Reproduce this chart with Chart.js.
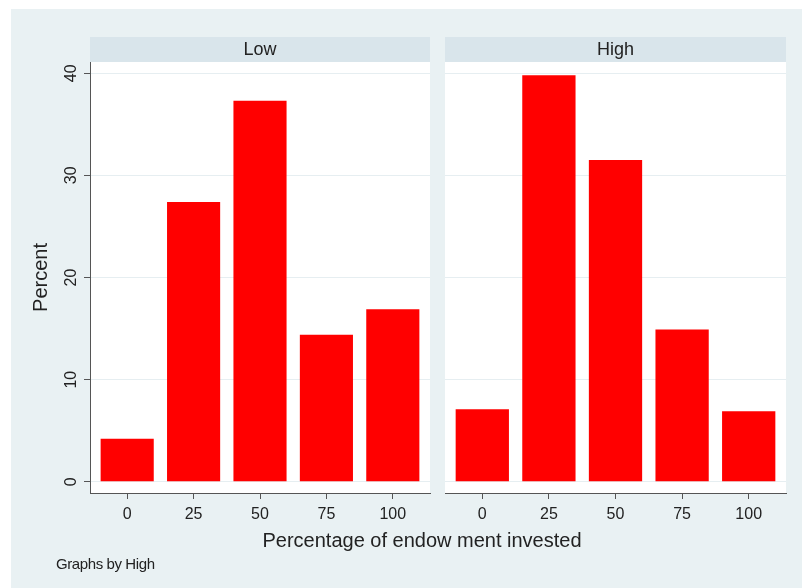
<!DOCTYPE html>
<html>
<head>
<meta charset="utf-8">
<script src="https://cdn.jsdelivr.net/npm/chart.js@4.4.1/dist/chart.umd.min.js"></script>
<style>
  body { margin: 0; background: #ffffff; font-family: "Liberation Sans", Arial, sans-serif; }
  #wrap { position: relative; width: 802px; height: 588px; overflow: hidden; }
  #bg { position: absolute; left: 11px; top: 9px; right: 0; bottom: 0; background: #e9f1f3; }
  canvas { position: absolute; top: 0; }
  .txt { position: absolute; color: #222; white-space: nowrap; }
</style>
</head>
<body>
<div id="wrap">
  <div id="bg"></div>
  <canvas id="lowChart" width="437" height="588" style="left:0"></canvas>
  <canvas id="highChart" width="365" height="588" style="left:437px"></canvas>
  <div class="txt" id="xTitle" style="left:0;width:844px;text-align:center;top:529px;font-size:20px;">Percentage of endow ment invested</div>
  <div class="txt" style="left:56px;top:555px;font-size:15px;letter-spacing:-0.4px;">Graphs by High</div>
</div>
<script>
// data (percent of subjects per bin)
const bins = [0, 25, 50, 75, 100];
const lowValues = [4.2, 27.4, 37.3, 14.4, 16.9];
const highValues = [7.1, 39.8, 31.5, 14.9, 6.9];
const yTicks = [0, 10, 20, 30, 40];
const xTicks = [0, 25, 50, 75, 100];
const panelTitles = ['Low', 'High'];

const textColor = '#222';
const axisColor = '#555';
const gridColor = '#e6eef1';
const headerColor = '#d9e5eb';

// white plot region and grey header strip above each panel
const panelPlugin = {
    id: 'panel',
    beforeDraw(chart, args, opts) {
        const a = chart.chartArea;
        const ctx = chart.ctx;
        ctx.save();
        ctx.fillStyle = '#ffffff';
        ctx.fillRect(a.left, a.top, a.right - a.left, a.bottom - a.top);
        ctx.fillStyle = headerColor;
        ctx.fillRect(a.left, 37, a.right - a.left, 25);
        ctx.fillStyle = textColor;
        ctx.font = '18px "Liberation Sans", Arial, sans-serif';
        ctx.textAlign = 'center';
        ctx.textBaseline = 'middle';
        ctx.fillText(opts.title, (a.left + a.right) / 2, 50);
        ctx.restore();
    }
};

// rotated y tick labels and y title, only on the left panel
const yLabelPlugin = {
    id: 'yLabels',
    afterDraw(chart) {
        const scale = chart.scales.y;
        const a = chart.chartArea;
        const ctx = chart.ctx;
        ctx.save();
        ctx.fillStyle = textColor;
        ctx.textAlign = 'center';
        ctx.textBaseline = 'middle';
        ctx.font = '16px "Liberation Sans", Arial, sans-serif';
        yTicks.forEach(v => {
            const y = scale.getPixelForValue(v);
            ctx.save();
            ctx.translate(72, y);
            ctx.rotate(-Math.PI / 2);
            ctx.fillText(String(v), 0, 0);
            ctx.restore();
        });
        ctx.font = '20px "Liberation Sans", Arial, sans-serif';
        ctx.translate(41, (a.top + a.bottom) / 2);
        ctx.rotate(-Math.PI / 2);
        ctx.fillText('Percent', 0, 0);
        ctx.restore();
    }
};

function makePanel(id, title, values, showY, padding) {
    const points = bins.map((b, i) => ({ x: b, y: values[i] }));
    return new Chart(document.getElementById(id), {
        type: 'bar',
        data: {
            datasets: [{
                data: points,
                backgroundColor: '#ff0000',
                borderWidth: 0,
                barPercentage: 0.8,
                categoryPercentage: 1.0
            }]
        },
        plugins: showY ? [panelPlugin, yLabelPlugin] : [panelPlugin],
        options: {
            responsive: false,
            animation: false,
            layout: { padding: padding },
            plugins: {
                legend: { display: false },
                tooltip: { enabled: false },
                panel: { title: title }
            },
            scales: {
                x: {
                    type: 'linear',
                    min: -14,
                    max: 114,
                    offset: false,
                    afterBuildTicks: s => { s.ticks = xTicks.map(v => ({ value: v })); },
                    afterFit: s => { s.height = 40; },
                    grid: { offset: false, drawOnChartArea: false, drawTicks: true, tickLength: 6, tickColor: axisColor },
                    border: { display: true, color: axisColor, width: 1 },
                    ticks: {
                        color: textColor,
                        padding: 6,
                        maxRotation: 0,
                        font: { size: 16, family: '"Liberation Sans", Arial, sans-serif' }
                    }
                },
                y: {
                    min: -1.1,
                    max: 41.1,
                    afterBuildTicks: s => { s.ticks = yTicks.map(v => ({ value: v })); },
                    afterFit: s => { s.width = showY ? 30 : 0; },
                    grid: {
                        color: gridColor,
                        lineWidth: 1,
                        drawTicks: showY,
                        tickLength: 6,
                        tickColor: axisColor
                    },
                    border: { display: showY, color: axisColor, width: 1 },
                    ticks: { display: false }
                }
            }
        }
    });
}

document.addEventListener('DOMContentLoaded', function() {
    makePanel('lowChart', panelTitles[0], lowValues, true, { top: 62, left: 60, right: 7, bottom: 55 });
    makePanel('highChart', panelTitles[1], highValues, false, { top: 62, left: 8, right: 16, bottom: 55 });
});
</script>
</body>
</html>
